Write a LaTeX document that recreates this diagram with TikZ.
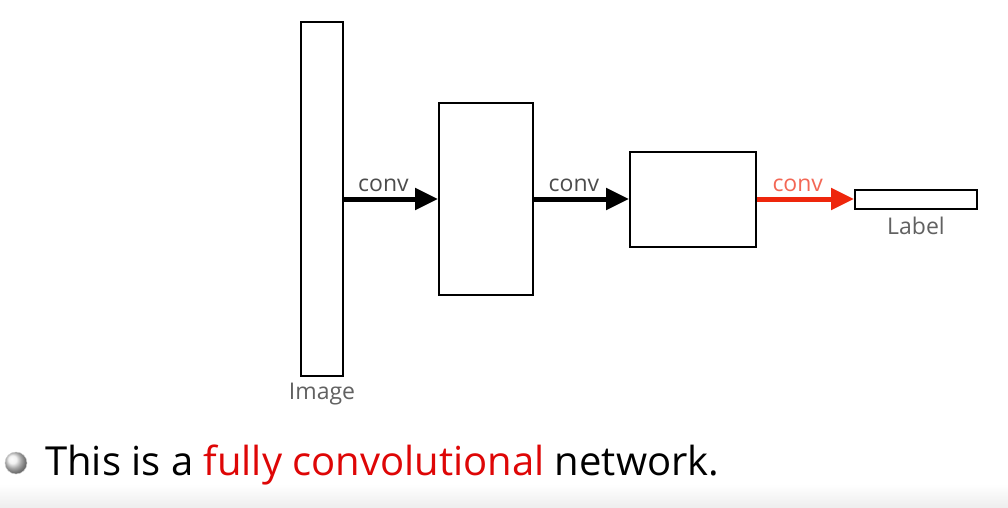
\documentclass[tikz,border=0pt]{standalone}
\usepackage{fontspec}
\setmainfont{Open Sans}
\usetikzlibrary{arrows.meta,positioning}
\definecolor{convred}{RGB}{238,38,12}
\definecolor{textred}{RGB}{222,6,6}
\tikzset{layer/.style={draw,line width=2pt,inner sep=0pt},
  convarrow/.style={line width=5pt,-{Triangle[length=23pt,width=21pt]}},
  lbl/.style={text=black!62,font=\fontsize{23}{26}\selectfont,inner sep=2pt}}

\begin{document}
\begin{tikzpicture}[x=1pt,y=-1pt]
  \useasboundingbox (0,0) rectangle (1008,508);
  % bottom strip
  \shade[top color=white,bottom color=black!7] (0,484) rectangle (1008,508);

  % layers
  \node (img) [layer,minimum width=42pt,minimum height=354pt] at (322,199) {};
  \node (c1) [layer,minimum width=94pt,minimum height=192pt] at (486,199) {};
  \node (c2) [layer,minimum width=126pt,minimum height=95pt] at (693,199) {};
  \node (lab) [layer,minimum width=122pt,minimum height=19pt] at (916,199) {};
  \node [lbl,below=4pt of img] {Image};
  \node [lbl,below=5pt of lab] {Label};

  % arrows
  \foreach \a/\b/\c in {img/c1/black, c1/c2/black, c2/lab/convred}
    {\draw[convarrow,\c] (\a) -- node[lbl,above=3pt,pos=0.42,text=\c!70!white] {conv} (\b);}

  % bullet line
  \node (dot) [circle,minimum size=22pt,inner sep=0pt,ball color=black!7,draw=black!20,line width=0.5pt] at (16,463) {};
  \node (txt) [anchor=base west,inner sep=0pt,font=\fontsize{40}{44}\selectfont] at (45,475)
    {This is a \textcolor{textred}{fully convolutional} network.};
\end{tikzpicture}
\end{document}
